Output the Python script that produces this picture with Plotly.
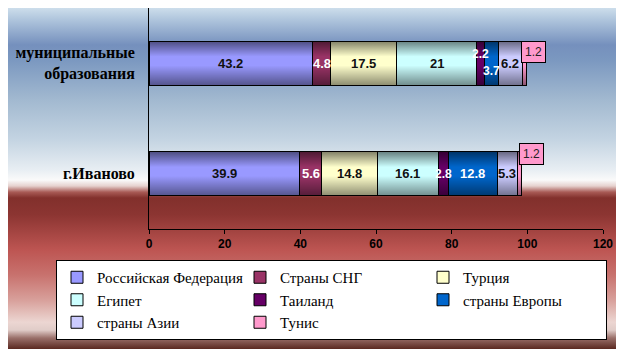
import base64
import plotly.graph_objects as go

# ---------------- data ----------------
categories = ["г.Иваново", "муниципальные<br>образования"]
series_names = ["Российская Федерация", "Страны СНГ", "Турция", "Египет",
                "Таиланд", "страны Европы", "страны Азии", "Тунис"]
ivanovo = [39.9, 5.6, 14.8, 16.1, 2.8, 12.8, 5.3, 1.2]
municipal = [43.2, 4.8, 17.5, 21.0, 2.2, 3.7, 6.2, 1.2]
x_ticks = [0, 20, 40, 60, 80, 100, 120]

# ---------------- style ----------------
colors = ["#9999FF", "#993366", "#FFFFCC", "#CCFFFF",
          "#660066", "#0066CC", "#CCCCFF", "#FF99CC"]
label_colors = ["#111111", "#FFFFFF", "#111111", "#111111",
                "#FFFFFF", "#FFFFFF", "#111111", "#111111"]
SERIF = "Liberation Serif, serif"
SANS = "Liberation Sans, Arial, sans-serif"
BAR_W = 0.4
OFF = 8  # default body margin of the html page
W, H = 624 - OFF, 355 - OFF
# plot area in page pixels: x 149..603, y 7..229
ML, MR, MT, MB = 149 - OFF, 624 - 603, 0, 355 - 229
PW, PH = W - ML - MR, H - MT - MB


def px_to_paper_x(px):
    return (px - OFF - ML) / PW


def px_to_paper_y(py):
    return (H - MB - (py - OFF)) / PH


def svg_uri(svg):
    return "data:image/svg+xml;base64," + base64.b64encode(svg.encode()).decode()


# background gradient (vertical), covering page area x 5..617, y 5..349
bg_stops = [
    (0.000, "#d4e4ef"), (0.044, "#aec4dc"), (0.116, "#7590bd"), (0.160, "#7b98c0"),
    (0.276, "#a2b9d0"), (0.392, "#c4d4e2"), (0.480, "#e8eef3"), (0.509, "#fafafa"),
    (0.526, "#e6d2cf"), (0.544, "#a85a55"), (0.561, "#82302c"), (0.610, "#8c3532"),
    (0.712, "#bd5552"), (0.785, "#c8726e"), (0.858, "#d8a09b"), (0.922, "#ecd6d2"),
    (0.945, "#e0ccc8"), (0.968, "#9a706a"), (1.000, "#5a2820"),
]
stops_svg = "".join(f'<stop offset="{o}" stop-color="{c}"/>' for o, c in bg_stops)
bg_svg = ('<svg xmlns="http://www.w3.org/2000/svg" width="612" height="344" '
          'viewBox="0 0 612 344" preserveAspectRatio="none"><defs>'
          f'<linearGradient id="g" x1="0" y1="0" x2="0" y2="1">{stops_svg}</linearGradient>'
          '</defs><rect width="612" height="344" fill="url(#g)"/></svg>')

# bar shading overlay (dark at top/bottom edges)
shade_svg = ('<svg xmlns="http://www.w3.org/2000/svg" width="10" height="100" '
             'viewBox="0 0 10 100" preserveAspectRatio="none"><defs>'
             '<linearGradient id="s" x1="0" y1="0" x2="0" y2="1">'
             '<stop offset="0" stop-color="#000" stop-opacity="0.5"/>'
             '<stop offset="0.35" stop-color="#000" stop-opacity="0"/>'
             '<stop offset="0.55" stop-color="#000" stop-opacity="0"/>'
             '<stop offset="1" stop-color="#000" stop-opacity="0.45"/>'
             '</linearGradient></defs><rect width="10" height="100" fill="url(#s)"/></svg>')

rows = [ivanovo, municipal]

fig = go.Figure()
for i, name in enumerate(series_names):
    fig.add_trace(go.Bar(
        y=categories, x=[ivanovo[i], municipal[i]], name=name, orientation="h",
        width=BAR_W, marker=dict(color=colors[i], line=dict(color="#000000", width=1)),
        hoverinfo="skip", textposition="none",
    ))

annotations = []
# special offsets per (category index, series index)
yshift_map = {(1, 4): 9, (1, 5): -8}
for j, vals in enumerate(rows):
    cum = 0.0
    for i, v in enumerate(vals):
        center = cum + v / 2
        cum += v
        if i == len(vals) - 1:
            # Тунис label in a box beyond the bar end
            annotations.append(dict(
                x=cum, y=categories[j], xref="x", yref="y", text=f"{v:g}",
                showarrow=False, xanchor="left", yanchor="middle",
                xshift=-6 if j == 1 else -3, yshift=11 if j == 1 else 20,
                font=dict(family=SANS, size=12, color="#222222"),
                bgcolor=colors[i], bordercolor="#000000", borderwidth=1, borderpad=3,
            ))
            continue
        annotations.append(dict(
            x=center, y=categories[j], xref="x", yref="y", text=f"<b>{v:g}</b>",
            showarrow=False, xanchor="center", yanchor="middle",
            yshift=yshift_map.get((j, i), 0),
            font=dict(family=SANS, size=13 if i != 4 and not (j == 1 and i == 5) else 12,
                      color=label_colors[i]),
        ))

images = [dict(
    source=svg_uri(bg_svg), xref="paper", yref="paper",
    x=px_to_paper_x(5), y=px_to_paper_y(5),
    sizex=612 / PW, sizey=344 / PH, sizing="stretch",
    xanchor="left", yanchor="top", layer="below",
)]
for j, vals in enumerate(rows):
    images.append(dict(
        source=svg_uri(shade_svg), xref="x", yref="y",
        x=0, y=j + BAR_W / 2, sizex=sum(vals), sizey=BAR_W,
        sizing="stretch", xanchor="left", yanchor="top", layer="above", opacity=1,
    ))

fig.update_layout(
    width=W, height=H,
    margin=dict(l=ML, r=MR, t=MT, b=MB, autoexpand=False),
    barmode="stack",
    paper_bgcolor="#ffffff", plot_bgcolor="rgba(0,0,0,0)",
    showlegend=True,
    legend=dict(
        orientation="h", traceorder="normal",
        x=px_to_paper_x(56), y=px_to_paper_y(260), xanchor="left", yanchor="top",
        bgcolor="#ffffff", bordercolor="#000000", borderwidth=1,
        entrywidth=138, entrywidthmode="pixels",
        font=dict(family=SERIF, size=15, color="#000000"),
    ),
    xaxis=dict(
        range=[0, 120], tickvals=x_ticks, showgrid=False, zeroline=False,
        showline=True, linecolor="#000000", linewidth=1,
        ticks="outside", ticklen=4, tickcolor="#000000",
        tickfont=dict(family=SANS, size=12, color="#000000", weight="bold"),
    ),
    yaxis=dict(
        categoryorder="array", categoryarray=categories,
        range=[-0.5, 1.5], showgrid=False, zeroline=False,
        showline=True, linecolor="#000000", linewidth=1, ticks="",
        ticklabelstandoff=10,
        tickfont=dict(family=SERIF, size=16, color="#000000", weight="bold"),
    ),
    annotations=annotations,
    images=images,
)

fig.write_html("out.html")
